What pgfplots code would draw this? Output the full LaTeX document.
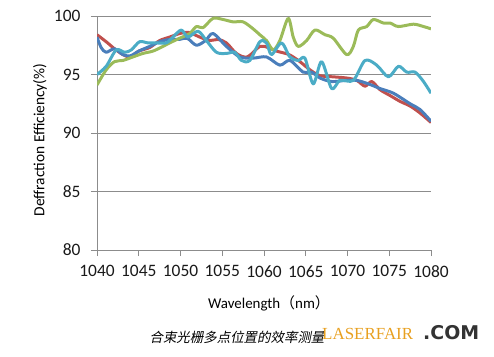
\documentclass[border=0pt]{standalone}
\usepackage{fontspec}
\setmainfont{Carlito}
\newfontfamily\cjk{Noto Sans CJK SC}
\newfontfamily\cjkslant[FakeSlant=0.2]{Noto Sans CJK SC}
\newfontfamily\serifw{Liberation Serif}
\newfontfamily\dejab{DejaVu Sans}
\usepackage{pgfplots}
\pgfplotsset{compat=1.18}
\definecolor{cred}{HTML}{C0504D}
\definecolor{cblue}{HTML}{4A7EBB}
\definecolor{cgreen}{HTML}{9BBB59}
\definecolor{ccyan}{HTML}{4BACC6}
\definecolor{gold}{HTML}{E8A020}
\definecolor{axgray}{HTML}{8C8C8C}
\begin{document}
\begin{tikzpicture}
\useasboundingbox (-97bp,-107bp) rectangle (397bp,250bp);
\begin{axis}[
  at={(0,0)}, anchor=south west,
  scale only axis, width=334bp, height=234bp,
  xmin=1040, xmax=1080, ymin=80, ymax=100,
  xtick={1040,1045,...,1080}, ytick={80,85,...,100},
  axis x line*=bottom, axis y line*=left,
  axis line style={axgray, line width=0.8pt, -},
  tick style={axgray, line width=0.8pt},
  tick align=outside, major tick length=6bp,
  ymajorgrids, grid style={axgray, line width=0.8pt},
  /pgf/number format/assume math mode=true,
  /pgf/number format/1000 sep={},
  ticklabel style={font=\fontsize{17.5}{19}\selectfont, text=black!90},
  xticklabel style={yshift=-6bp},
  yticklabel style={xshift=-7bp},
  every axis plot/.append style={line width=3pt, smooth, tension=0.5, mark=none, line join=round},
]
\addplot[cred] coordinates {(1040,98.4)(1041.1,97.8)(1042.1,97.2)(1043.1,96.7)(1044,96.5)(1045,97.0)(1046.3,97.3)(1047.5,97.9)(1048.7,98.2)(1049.9,98.5)(1051,98.6)(1052.3,98.2)(1053.5,97.9)(1054.5,98.0)(1055.5,97.7)(1056.7,96.8)(1058,96.5)(1059.5,97.4)(1060.5,97.3)(1061.5,97.0)(1063,96.7)(1064.3,96.1)(1065.5,95.4)(1066.7,94.9)(1068.3,94.8)(1069.9,94.7)(1071.1,94.5)(1072.1,94.0)(1072.9,94.4)(1073.9,93.7)(1075.1,93.2)(1076.3,92.7)(1077.5,92.3)(1078.7,91.7)(1080,90.9)};
\addplot[cblue] coordinates {(1040,98.2)(1040.5,97.3)(1041.1,96.9)(1042.1,97.2)(1043.1,96.7)(1044,96.6)(1045,97.0)(1046.3,97.4)(1047.5,97.8)(1048.7,98.0)(1049.9,98.0)(1050.8,98.1)(1051.9,97.5)(1053,97.9)(1053.9,98.5)(1055.5,97.4)(1057.1,96.5)(1058.7,96.4)(1060.3,96.5)(1061.9,95.8)(1063.1,96.2)(1064.7,95.2)(1065.7,95.2)(1066.7,94.7)(1068.1,94.4)(1069.9,94.5)(1071.1,94.5)(1072.5,94.2)(1073.9,93.8)(1075.5,93.4)(1077.5,92.5)(1078.7,92.0)(1080,91.0)};
\addplot[cgreen] coordinates {(1040,94.1)(1041.1,95.4)(1042.1,96.1)(1043.1,96.2)(1044.3,96.5)(1045.5,96.8)(1046.7,97.0)(1047.9,97.4)(1048.7,97.7)(1049.9,98.1)(1051.1,98.5)(1051.9,99.1)(1052.7,99.0)(1053.9,99.8)(1055.1,99.7)(1056.3,99.5)(1057.5,99.5)(1058.7,98.9)(1059.5,98.4)(1060.3,97.9)(1061.1,97.1)(1061.9,97.9)(1062.9,99.8)(1063.5,98.2)(1064.1,97.4)(1065.1,97.9)(1066.1,98.8)(1067.3,98.4)(1068.3,98.1)(1069.9,96.7)(1070.7,97.4)(1071.3,98.8)(1072.3,99.1)(1073.1,99.7)(1074.3,99.4)(1075.1,99.4)(1076.1,99.1)(1077.9,99.3)(1079.1,99.1)(1080,98.9)};
\addplot[ccyan] coordinates {(1040,95.0)(1041.1,95.7)(1042.3,97.1)(1043.3,96.9)(1044.1,97.1)(1045.1,97.8)(1046.1,97.7)(1047.1,97.7)(1048.3,97.7)(1049.1,98.2)(1050.1,98.8)(1050.9,98.2)(1052.1,98.7)(1053.1,97.9)(1054.3,96.9)(1055.5,96.8)(1056.5,96.9)(1057.3,96.2)(1058.3,96.2)(1059.5,97.8)(1060.3,97.7)(1060.9,96.7)(1062.1,97.7)(1063.1,96.5)(1064.1,96.2)(1064.9,96.4)(1065.9,94.2)(1066.9,96.1)(1068.1,93.8)(1069.1,94.5)(1070.7,94.5)(1072.1,96.2)(1073.5,95.8)(1074.9,94.8)(1076.1,95.7)(1077.1,95.2)(1078.1,95.2)(1079.1,94.4)(1080,93.4)};
\end{axis}
\node[rotate=90, font=\fontsize{15.5}{17}\selectfont] at (-57bp,110bp) {Deffraction Efficiency(\%)};
\node[font=\fontsize{15}{17}\selectfont] at (172bp,-53bp) {Wavelength{\cjk （}nm{\cjk ）}};
\node[font=\fontsize{13.5}{15}\selectfont] at (140bp,-87bp) {\cjkslant 合束光栅多点位置的效率测量};
\node[anchor=base west, inner sep=0pt, font=\fontsize{17}{19}\selectfont, text=gold] at (225bp,-89bp) {\serifw LASERFAIR};
\node[anchor=base west, inner sep=0pt, font=\fontsize{19}{21}\selectfont\bfseries, text=black!80] at (326bp,-89bp) {\dejab .COM};
\end{tikzpicture}
\end{document}
